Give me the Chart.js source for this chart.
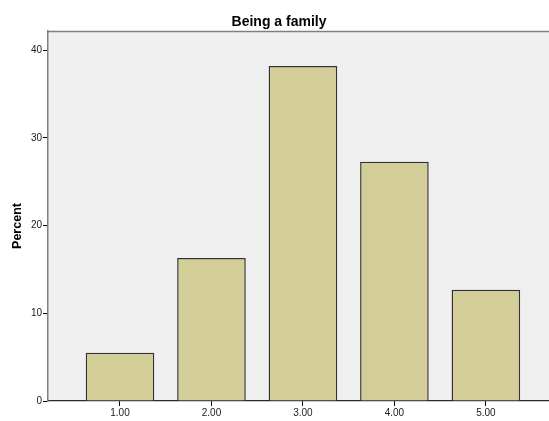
<!DOCTYPE html>
<html>
<head>
<meta charset="utf-8">
<script src="https://cdn.jsdelivr.net/npm/chart.js@4/dist/chart.umd.min.js"></script>
<style>
  html, body { margin: 0; padding: 0; background: #ffffff; }
  #wrap { width: 549px; height: 421px; }
</style>
</head>
<body>
<div id="wrap"><canvas id="c" width="549" height="421"></canvas></div>
<script>
const chartTitle = "Being a family";
const yTitle = "Percent";
const categories = ["1.00", "2.00", "3.00", "4.00", "5.00"];
const positions = [1, 2, 3, 4, 5];
const percents = [5.5, 16.3, 38.2, 27.3, 12.7];
const yTicks = [0, 10, 20, 30, 40];

const FONT = "'Liberation Sans', Arial, sans-serif";

const decor = {
  id: 'decor',
  beforeDraw(chart) {
    const { ctx, chartArea: a } = chart;
    ctx.save();
    ctx.fillStyle = '#ffffff';
    ctx.fillRect(0, 0, chart.width, chart.height);
    ctx.fillStyle = '#efefef';
    ctx.fillRect(a.left, a.top, a.right - a.left, a.bottom - a.top);
    ctx.restore();
  },
  afterDraw(chart) {
    const { ctx, chartArea: a } = chart;
    ctx.save();
    ctx.strokeStyle = '#808080';
    ctx.lineWidth = 1.5;
    ctx.beginPath();
    ctx.moveTo(a.left, a.top + 0.5);
    ctx.lineTo(a.right, a.top + 0.5);
    ctx.stroke();
    ctx.fillStyle = '#000000';
    ctx.font = "bold 14px " + FONT;
    ctx.textAlign = 'center';
    ctx.textBaseline = 'alphabetic';
    ctx.fillText(chartTitle, 279, 26);
    ctx.translate(21, 226);
    ctx.rotate(-Math.PI / 2);
    ctx.font = "bold 12.5px " + FONT;
    ctx.fillText(yTitle, 0, 0);
    ctx.restore();
  }
};

new Chart(document.getElementById('c'), {
  type: 'bar',
  data: {
    datasets: [{
      data: positions.map((p, i) => ({ x: p, y: percents[i] })),
      backgroundColor: '#d3ce98',
      borderColor: '#333333',
      borderWidth: 1.5,
      categoryPercentage: 1,
      barPercentage: 0.75
    }]
  },
  options: {
    responsive: false,
    animation: false,
    devicePixelRatio: 1,
    layout: { padding: { left: 0, top: 31, right: 0, bottom: 0 } },
    plugins: { legend: { display: false }, title: { display: false }, tooltip: { enabled: false } },
    scales: {
      x: {
        type: 'linear',
        min: 0.213,
        max: 5.69,
        offset: false,
        afterBuildTicks(scale) { scale.ticks = positions.map(v => ({ value: v })); },
        afterFit(scale) { scale.height = 20; },
        ticks: {
          callback(value) { const i = positions.indexOf(value); return i >= 0 ? categories[i] : ''; },
          font: { family: FONT, size: 10 },
          color: '#1a1a1a',
          padding: 1,
          maxRotation: 0,
          autoSkip: false
        },
        grid: { display: true, offset: false, drawOnChartArea: false, drawTicks: true, tickLength: 5, color: '#000000', lineWidth: 1 },
        border: { display: true, color: '#2a2a2a', width: 1.2 }
      },
      y: {
        min: 0,
        max: 42.2,
        afterBuildTicks(scale) { scale.ticks = yTicks.map(v => ({ value: v })); },
        afterFit(scale) { scale.width = 48; },
        ticks: {
          font: { family: FONT, size: 10 },
          color: '#1a1a1a',
          padding: 1
        },
        grid: { display: true, offset: false, drawOnChartArea: false, drawTicks: true, tickLength: 5, color: '#000000', lineWidth: 1 },
        border: { display: true, color: '#808080', width: 1.5 }
      }
    }
  },
  plugins: [decor]
});
</script>
</body>
</html>
